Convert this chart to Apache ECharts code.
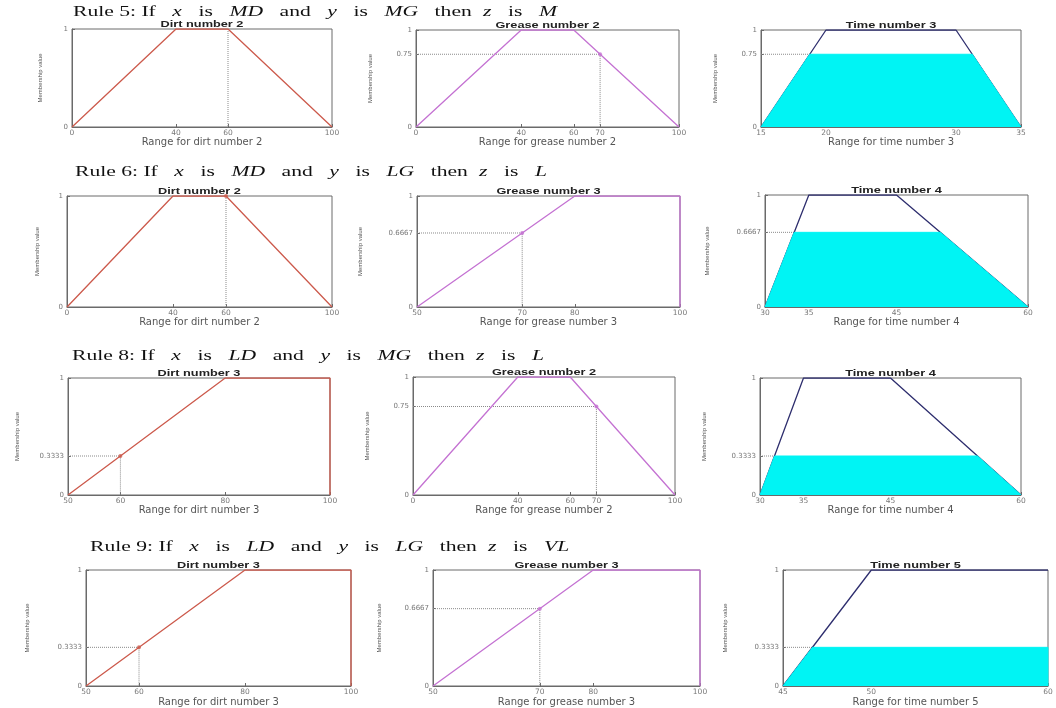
<!DOCTYPE html>
<html>
<head>
<meta charset="utf-8">
<title>Fuzzy rules</title>
<script src="https://cdn.jsdelivr.net/npm/echarts@6/dist/echarts.min.js"></script>
<style>
  html, body { margin: 0; padding: 0; background: #fff; }
  #main { width: 1056px; height: 708px; }
</style>
</head>
<body>
<div id="main"></div>
<script>
  // membership functions, [x, membership]
  const dirt2 = [[0, 0], [40, 1], [60, 1], [100, 0]];
  const dirt3 = [[50, 0], [80, 1], [100, 1], [100, 0]];
  const grease2 = [[0, 0], [40, 1], [60, 1], [100, 0]];
  const grease3 = [[50, 0], [80, 1], [100, 1], [100, 0]];
  const time3 = [[15, 0], [20, 1], [30, 1], [35, 0]];
  const time4 = [[30, 0], [35, 1], [45, 1], [60, 0]];
  const time5 = [[45, 0], [50, 1], [60, 1]];

  // clipped output sets (cyan)
  const time3Cut = [[15, 0], [18.75, 0.75], [31.25, 0.75], [35, 0]];
  const time4CutA = [[30, 0], [33.33, 0.6667], [50, 0.6667], [60, 0]];
  const time4CutB = [[30, 0], [31.67, 0.3333], [55, 0.3333], [60, 0]];
  const time5Cut = [[45, 0], [46.67, 0.3333], [60, 0.3333], [60, 0]];

  // dotted guide lines and fired points
  const guideDirt2 = [[60, 1], [60, 0]];
  const guideGrease2 = [[0, 0.75], [70, 0.75], [70, 0]];
  const guideGrease3 = [[50, 0.6667], [70, 0.6667], [70, 0]];
  const guideDirt3 = [[50, 0.3333], [60, 0.3333], [60, 0]];
  const guideTime3 = [[15, 0.75], [18.75, 0.75]];
  const guideTime4A = [[30, 0.6667], [33.33, 0.6667]];
  const guideTime4B = [[30, 0.3333], [31.67, 0.3333]];
  const guideTime5 = [[45, 0.3333], [46.67, 0.3333]];

  // tick labels
  const ticksDirt2 = [0, 40, 60, 100];
  const ticksDirt3 = [50, 60, 80, 100];
  const ticksGrease2 = [0, 40, 60, 70, 100];
  const ticksGrease3 = [50, 70, 80, 100];
  const ticksTime3 = [15, 20, 30, 35];
  const ticksTime4 = [30, 35, 45, 60];
  const ticksTime5 = [45, 50, 60];
  const yTicks1 = [0, 1];
  const yTicks75 = [0, 0.75, 1];
  const yTicks67 = [0, 0.6667, 1];
  const yTicks33 = [0, 0.3333, 1];

  const RED = '#cc5a4c', VIOLET = '#c472d2', NAVY = '#2e2e6e', CYAN = '#00f4f4', FRAME = '#6a6a6a';

  const panels = [
    {title: 'Dirt number 2', xName: 'Range for dirt number 2', shape: dirt2, color: RED, xr: [0, 100], xt: ticksDirt2, yt: yTicks1, guide: guideDirt2},
    {title: 'Grease number 2', xName: 'Range for grease number 2', shape: grease2, color: VIOLET, xr: [0, 100], xt: ticksGrease2, yt: yTicks75, guide: guideGrease2, point: [70, 0.75]},
    {title: 'Time number 3', xName: 'Range for time number 3', shape: time3, color: NAVY, xr: [15, 35], xt: ticksTime3, yt: yTicks75, guide: guideTime3, fill: time3Cut},

    {title: 'Dirt number 2', xName: 'Range for dirt number 2', shape: dirt2, color: RED, xr: [0, 100], xt: ticksDirt2, yt: yTicks1, guide: guideDirt2, point: [60, 1]},
    {title: 'Grease number 3', xName: 'Range for grease number 3', shape: grease3, color: VIOLET, xr: [50, 100], xt: ticksGrease3, yt: yTicks67, guide: guideGrease3, point: [70, 0.6667]},
    {title: 'Time number 4', xName: 'Range for time number 4', shape: time4, color: NAVY, xr: [30, 60], xt: ticksTime4, yt: yTicks67, guide: guideTime4A, fill: time4CutA},

    {title: 'Dirt number 3', xName: 'Range for dirt number 3', shape: dirt3, color: RED, xr: [50, 100], xt: ticksDirt3, yt: yTicks33, guide: guideDirt3, point: [60, 0.3333]},
    {title: 'Grease number 2', xName: 'Range for grease number 2', shape: grease2, color: VIOLET, xr: [0, 100], xt: ticksGrease2, yt: yTicks75, guide: guideGrease2, point: [70, 0.75]},
    {title: 'Time number 4', xName: 'Range for time number 4', shape: time4, color: NAVY, xr: [30, 60], xt: ticksTime4, yt: yTicks33, guide: guideTime4B, fill: time4CutB},

    {title: 'Dirt number 3', xName: 'Range for dirt number 3', shape: dirt3, color: RED, xr: [50, 100], xt: ticksDirt3, yt: yTicks33, guide: guideDirt3, point: [60, 0.3333]},
    {title: 'Grease number 3', xName: 'Range for grease number 3', shape: grease3, color: VIOLET, xr: [50, 100], xt: ticksGrease3, yt: yTicks67, guide: guideGrease3, point: [70, 0.6667]},
    {title: 'Time number 5', xName: 'Range for time number 5', shape: time5, color: NAVY, xr: [45, 60], xt: ticksTime5, yt: yTicks33, guide: guideTime5, fill: time5Cut}
  ];

  // plot boxes: left, top, width, height, y-name gap, x-name gap
  const boxes = [
    [72, 29, 260, 98, 29, 9], [416, 30, 263, 97, 43, 9], [761, 30, 260, 97, 43, 9],
    [67, 196, 265, 111, 27, 10], [417, 196, 263, 111, 54, 10], [765, 195, 263, 112, 55, 10],
    [68, 378, 262, 117, 48, 9], [413, 377, 262, 118, 43, 9], [760, 378, 261, 117, 53, 9],
    [86, 570, 265, 116, 56, 11], [433, 570, 267, 116, 51, 11], [783, 570, 265, 116, 55, 11]
  ];

  // rule headings
  const rules = [
    {x: 73, y: 12, parts: ['5', 'MD', 'MG', 'M']},
    {x: 75, y: 172, parts: ['6', 'MD', 'LG', 'L']},
    {x: 72, y: 356, parts: ['8', 'LD', 'MG', 'L']},
    {x: 90, y: 547, parts: ['9', 'LD', 'LG', 'VL']}
  ];

  const grid = [], xAxis = [], yAxis = [], series = [], graphic = [];
  const labelFont = 'DejaVu Sans';

  panels.forEach(function (p, i) {
    const b = boxes[i];
    grid.push({left: b[0], top: b[1], width: b[2], height: b[3], show: true, borderColor: FRAME, borderWidth: 1, outerBoundsMode: 'none'});
    xAxis.push({
      gridIndex: i, type: 'value', min: p.xr[0], max: p.xr[1],
      name: p.xName, nameLocation: 'middle', nameGap: b[5],
      nameTextStyle: {fontFamily: labelFont, fontSize: 10, color: '#555'},
      axisLine: {show: true, onZero: false, lineStyle: {color: FRAME}},
      axisTick: {show: true, inside: true, length: 3, customValues: p.xt, lineStyle: {color: FRAME}},
      axisLabel: {customValues: p.xt, fontFamily: labelFont, fontSize: 7.5, color: '#777', margin: 2},
      splitLine: {show: false}
    });
    yAxis.push({
      gridIndex: i, type: 'value', min: 0, max: 1,
      name: 'Membership value', nameLocation: 'middle', nameRotate: 90, nameGap: b[4],
      nameTextStyle: {fontFamily: 'Liberation Sans Narrow, Liberation Sans', fontSize: 6, color: '#555'},
      axisLine: {show: true, lineStyle: {color: FRAME}},
      axisTick: {show: true, inside: true, length: 3, customValues: p.yt, lineStyle: {color: FRAME}},
      axisLabel: {customValues: p.yt, fontFamily: labelFont, fontSize: 7, color: '#777', margin: 4,
        formatter: function (v) { return String(v); }},
      splitLine: {show: false}
    });
    series.push({
      type: 'line', xAxisIndex: i, yAxisIndex: i, data: p.guide, symbol: 'none', silent: true, z: 1,
      lineStyle: {color: '#8a8a8a', width: 1, type: 'dotted'}
    });
    series.push({
      type: 'line', xAxisIndex: i, yAxisIndex: i, data: p.shape, symbol: 'none', silent: true, z: 2,
      lineStyle: {color: p.color, width: 1.3}
    });
    if (p.fill) {
      series.push({
        type: 'line', xAxisIndex: i, yAxisIndex: i, data: p.fill, symbol: 'none', silent: true, z: 3,
        lineStyle: {color: CYAN, width: 1}, areaStyle: {color: CYAN, opacity: 1}
      });
    }
    if (p.point) {
      series.push({
        type: 'scatter', xAxisIndex: i, yAxisIndex: i, data: [p.point], symbolSize: 4, silent: true, z: 4,
        itemStyle: {color: p.color}
      });
    }
    graphic.push({
      type: 'text', x: b[0] + b[2] / 2, y: b[1] - 4.5, scaleX: 1.5, silent: true,
      style: {text: p.title, font: 'bold 8.5px "Liberation Sans"', fill: '#222',
        align: 'center', verticalAlign: 'middle', textAlign: 'center', textVerticalAlign: 'middle'}
    });
  });

  rules.forEach(function (r) {
    const txt = '{n|Rule ' + r.parts[0] + ': If  }{i|x}{n|  is  }{i|' + r.parts[1] + '}{n|  and  }{i|y}{n|  is  }{i|' +
      r.parts[2] + '}{n|  then }{i|z}{n|  is  }{i|' + r.parts[3] + '}';
    graphic.push({
      type: 'text', x: r.x, y: r.y, scaleX: 1.44, silent: true,
      style: {
        text: txt, align: 'left', verticalAlign: 'middle', textAlign: 'left', textVerticalAlign: 'middle',
        rich: {
          n: {fontFamily: 'Liberation Serif', fontSize: 15, fill: '#111'},
          i: {fontFamily: 'Liberation Serif', fontSize: 15, fontStyle: 'italic', fill: '#111', padding: [0, 4]}
        }
      }
    });
  });

  const myChart = echarts.init(document.getElementById('main'));
  myChart.setOption({
    animation: false,
    backgroundColor: '#fff',
    grid: grid,
    xAxis: xAxis,
    yAxis: yAxis,
    series: series,
    graphic: graphic
  });
</script>
</body>
</html>
